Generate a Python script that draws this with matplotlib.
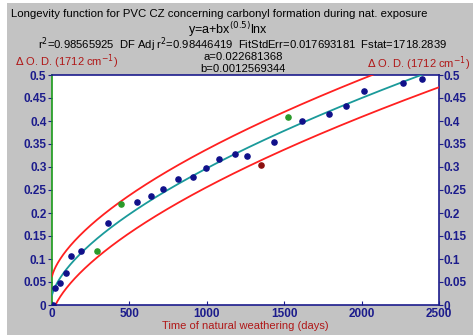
import numpy as np
import matplotlib.pyplot as plt
from matplotlib.patches import Rectangle

# Fit parameters from the reference
a = 0.022681368
b = 0.0012569344
band = 0.041

# Measured points (days, delta O.D.)
days = [4, 17, 52, 90, 122, 187, 361, 548, 638, 719, 814, 908, 997, 1082,
        1179, 1258, 1435, 1615, 1791, 1901, 2014, 2266, 2392]
od = [0.0, 0.038, 0.047, 0.069, 0.107, 0.117, 0.178, 0.223, 0.236, 0.252,
      0.274, 0.279, 0.297, 0.317, 0.328, 0.323, 0.354, 0.399, 0.416, 0.433,
      0.466, 0.483, 0.491]
green_days = [288, 447, 1527]
green_od = [0.118, 0.219, 0.408]
red_days = [1351]
red_od = [0.304]

navy = '#1c1c8c'
dred = '#b01818'
plt.rcParams['font.family'] = ['Liberation Sans', 'DejaVu Sans']

fig = plt.figure(figsize=(4.77, 3.35), dpi=100)
fig.patch.set_facecolor('white')
fig.add_artist(Rectangle((7 / 477, 0), 466 / 477, 332 / 335,
                         transform=fig.transFigure, facecolor='#c3c3c3',
                         edgecolor='none', zorder=-5))

ax = fig.add_axes([52 / 477, 30 / 335, 387 / 477, 230 / 335])
ax.set_facecolor('white')

x = np.linspace(0.3, 2500, 800)
fit = a + b * np.sqrt(x) * np.log(x)
ax.plot(x, fit, color='#1a9a9a', lw=1.3, zorder=3)
ax.plot(x, fit + band, color='#ff2020', lw=1.3, zorder=3)
ax.plot(x, fit - band, color='#ff2020', lw=1.3, zorder=3)

ax.scatter(days, od, s=14, color='#10108a', zorder=4)
ax.scatter(green_days, green_od, s=14, color='#2a9a2a', zorder=4)
ax.scatter(red_days, red_od, s=14, color='#8b1010', zorder=4)

ax.set_xlim(0, 2500)
ax.set_ylim(0, 0.5)
ax.set_xticks([0, 500, 1000, 1500, 2000, 2500])
yt = np.arange(0, 0.51, 0.05)
ax.set_yticks(yt)
ax.set_yticklabels(['0' if v == 0 else f'{v:g}' for v in yt])
for s in ['top', 'bottom', 'right']:
    ax.spines[s].set_color(navy)
    ax.spines[s].set_linewidth(1.2)
ax.spines['left'].set_color('#1a9a1a')
ax.spines['left'].set_linewidth(1.2)
ax.tick_params(axis='x', direction='in', length=3, color=navy,
               labelcolor=navy, labelsize=8.5, pad=2)
ax.tick_params(axis='y', direction='out', length=3, color=navy,
               labelcolor=navy, labelsize=8.5, pad=1)
for lab in ax.get_xticklabels() + ax.get_yticklabels():
    lab.set_fontweight('bold')

ax2 = ax.twinx()
ax2.set_ylim(0, 0.5)
ax2.set_yticks(yt)
ax2.set_yticklabels(['0' if v == 0 else f'{v:g}' for v in yt])
ax2.tick_params(axis='y', direction='out', length=3, color=navy,
                labelcolor=navy, labelsize=8.5, pad=0)
for lab in ax2.get_yticklabels():
    lab.set_fontweight('bold')
for s in ax2.spines.values():
    s.set_visible(False)

ax.set_xlabel('Time of natural weathering (days)', color=dred, fontsize=8,
              labelpad=1)

# Header texts
fig.text(11 / 477, 1 - 14 / 335,
         'Longevity function for PVC CZ concerning carbonyl formation during nat. exposure',
         fontsize=8.2, va='center', ha='left')
fig.text(228 / 477, 1 - 30 / 335, r'y=a+bx$^{(0.5)}$lnx', fontsize=9,
         va='center', ha='center')
fig.text(243 / 477, 1 - 45 / 335,
         r'r$^2$=0.98565925  DF Adj r$^2$=0.98446419  FitStdErr=0.017693181  Fstat=1718.2839',
         fontsize=8.1, va='center', ha='center')
fig.text(243 / 477, 1 - 57 / 335, 'a=0.022681368', fontsize=8.1,
         va='center', ha='center')
fig.text(243 / 477, 1 - 69 / 335, 'b=0.0012569344', fontsize=8.1,
         va='center', ha='center')
fig.text(15 / 477, 1 - 62 / 335, r'$\Delta$ O. D. (1712 cm$^{-1}$)',
         fontsize=8, color=dred, va='center', ha='left')
fig.text(470 / 477, 1 - 64 / 335, r'$\Delta$ O. D. (1712 cm$^{-1}$)',
         fontsize=8, color=dred, va='center', ha='right')

fig.savefig('out.png', dpi=100)
